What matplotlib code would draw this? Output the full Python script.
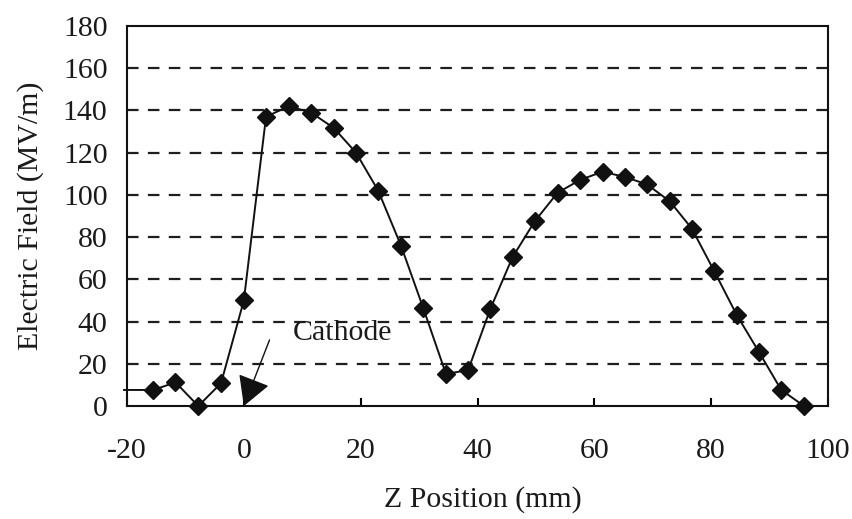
"""Electric field profile along z, redrawn from the published figure."""
import matplotlib
matplotlib.use("Agg")
import matplotlib.pyplot as plt

# values; first and last entries are the unmarked line ends
z_mm = [-20.5, -15.5, -11.7, -7.8, -3.9, 0.0, 3.8, 7.7, 11.5, 15.4, 19.2, 23.0,
        26.9, 30.7, 34.6, 38.4, 42.2, 46.0, 49.8, 53.7, 57.5, 61.4, 65.2, 69.0,
        72.9, 76.7, 80.5, 84.4, 88.2, 92.0, 95.9, 100.0]
field = [7.6, 7.6, 11.2, 0.0, 10.8, 50.0, 137.0, 142.0, 139.0, 131.7, 120.0, 102.0,
         76.0, 46.5, 15.2, 17.0, 46.0, 70.5, 87.5, 101.0, 107.0, 111.0, 108.5, 105.0,
         97.0, 84.0, 64.0, 43.0, 25.5, 7.6, 0.0, 0.0]
x_ticks = [-20, 0, 20, 40, 60, 80, 100]
y_ticks = list(range(0, 181, 20))

plt.rcParams["font.family"] = ["Liberation Serif", "DejaVu Serif"]
plt.rcParams["axes.unicode_minus"] = False
text_color = "#1a1a1a"
fs = 21.5
W, H = 852, 519

fig = plt.figure(figsize=(W / 100, H / 100), dpi=100)
ax = fig.add_axes([127 / W, (H - 406) / H, (828 - 127) / W, (406 - 26) / H])

ax.plot(z_mm, field, color="#111111", lw=1.4, marker="D", ms=9.5,
        markevery=slice(1, len(z_mm) - 1), clip_on=False, zorder=3)

ax.set_xlim(-20, 100)
ax.set_ylim(0, 180)
ax.set_xticks(x_ticks)
ax.set_yticks(y_ticks)
for y in y_ticks[1:-1]:
    ax.axhline(y, color="#1e1e1e", lw=1.6, linestyle=(0, (5.2, 4.2)), zorder=1)

for sp in ax.spines.values():
    sp.set_linewidth(1.5)
    sp.set_color("#111111")

ax.tick_params(axis="x", direction="in", length=6, width=1.5, pad=23,
               labelsize=fs, labelcolor=text_color, top=False)
ax.tick_params(axis="y", length=0, pad=14, labelsize=fs, labelcolor=text_color)

ax.set_xlabel("Z Position (mm)", fontsize=fs, color=text_color)
ax.set_ylabel("Electric Field (MV/m)", fontsize=fs, color=text_color)
ax.xaxis.set_label_coords(0.508, -0.247)
ax.yaxis.set_label_coords(-0.138, 0.5)
ax.xaxis.label.set_va("center")
ax.yaxis.label.set_va("center")

ax.annotate("", xy=(0, 0), xytext=(4.4, 31.3),
            arrowprops=dict(arrowstyle="-|>,head_length=0.8,head_width=0.45",
                            mutation_scale=23, color="#111111", lw=1,
                            shrinkA=0, shrinkB=0), zorder=4)
ax.text(16.8, 34.6, "Cathode", fontsize=fs, color=text_color,
        ha="center", va="center")

fig.savefig("out.png", dpi=100, facecolor="white")
